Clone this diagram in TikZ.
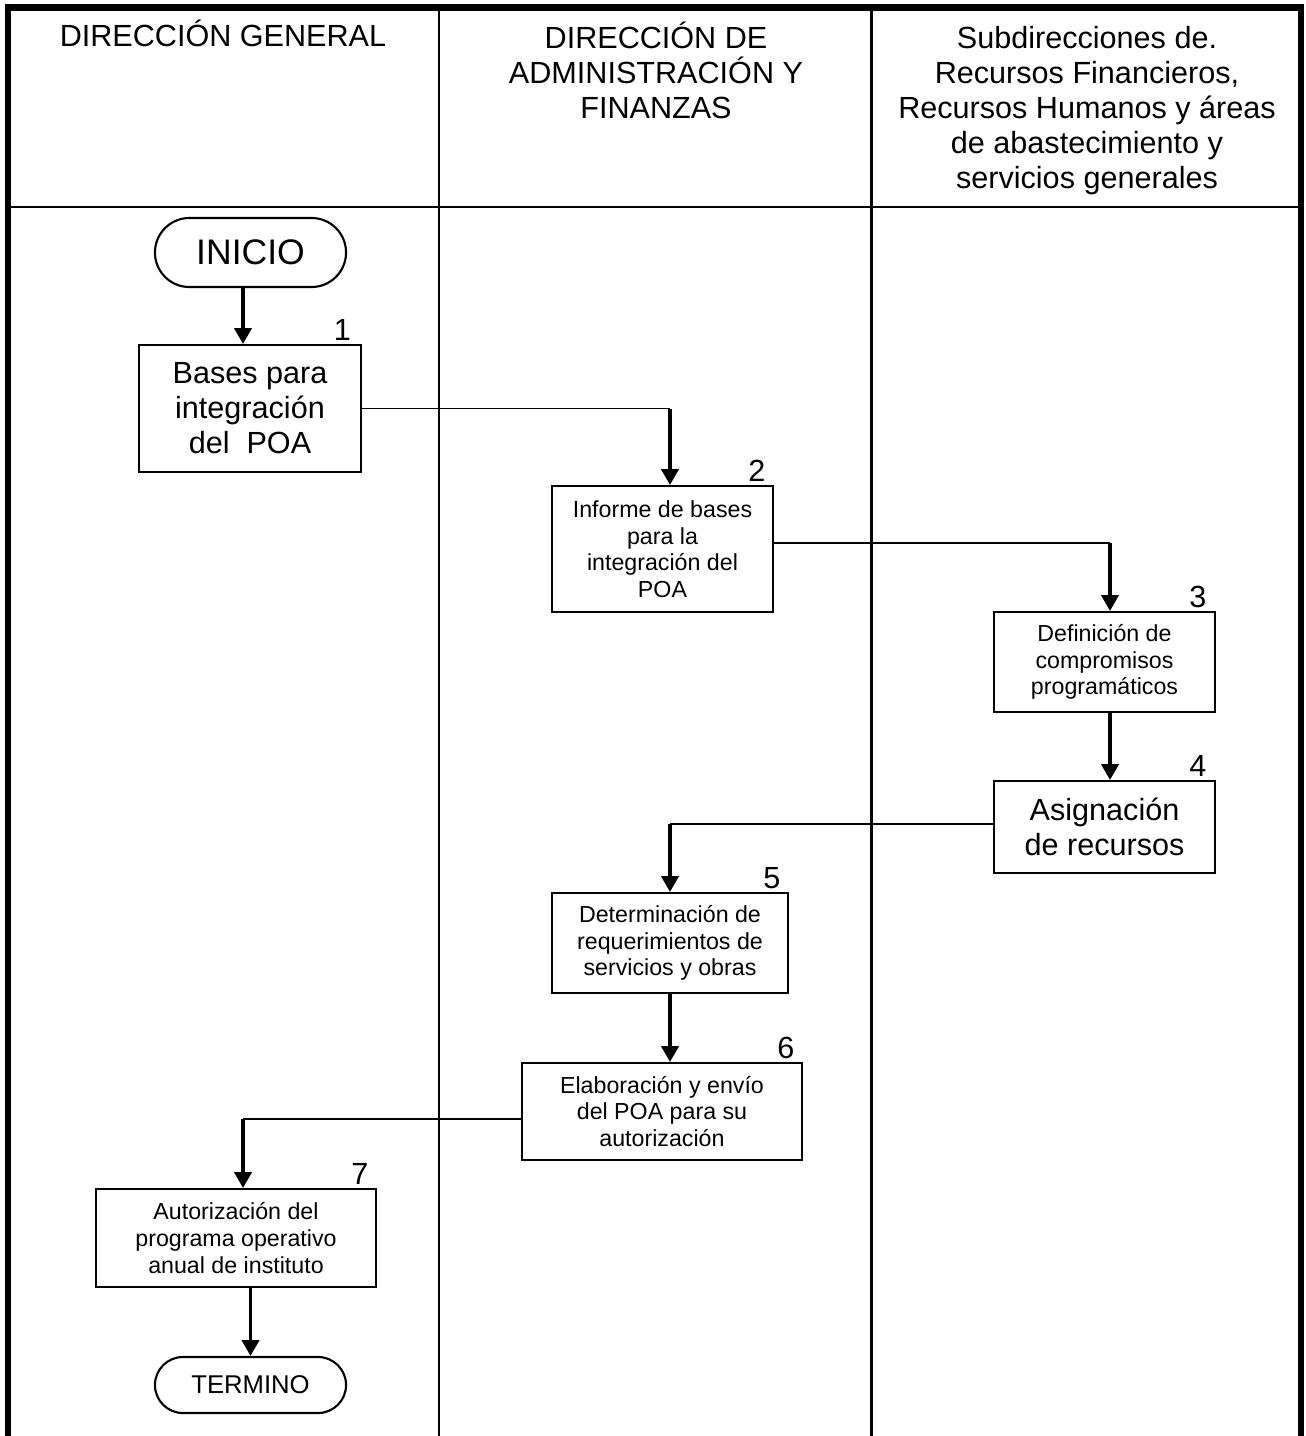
\documentclass[tikz,border=0pt]{standalone}
\usepackage{fontspec}
\setmainfont{Liberation Sans}
\usetikzlibrary{shapes.misc,arrows.meta}

\begin{document}
\begin{tikzpicture}[x=0.01cm,y=-0.01cm,
  caja/.style={draw,line width=0.6pt,align=center,inner sep=0pt},
  grande/.style={font=\fontsize{8.7}{9.96}\selectfont},
  chica/.style={font=\fontsize{6.6}{7.55}\selectfont},
  terminal/.style={draw,rounded rectangle,line width=0.6pt,inner sep=0pt,minimum width=1.91cm},
  num/.style={font=\fontsize{8.7}{10}\selectfont,anchor=base east,inner sep=0pt},
  encabezado/.style={font=\fontsize{8.7}{9.96}\selectfont,align=center,inner sep=0pt},
  flecha/.style={line width=0.9pt,-{Triangle[length=4.5pt,width=4.9pt]}},
  linea/.style={line width=0.5pt}]
\useasboundingbox (0,0) rectangle (1306,1436);
% marco y carriles
\draw[line width=1.9pt] (8,1436) -- (8,7.5) -- (1301,7.5) -- (1301,1436);
\draw[line width=0.85pt] (439,7.5) -- (439,1436);
\draw[line width=0.85pt] (871.5,7.5) -- (871.5,1436);
\draw[line width=0.75pt] (8,207) -- (1301,207);
% encabezados
\node[encabezado,anchor=base] (h1) at (223,46) {DIRECCIÓN GENERAL};
\node[encabezado] (h2) at (656,70) {DIRECCIÓN DE\\ADMINISTRACIÓN Y\\FINANZAS};
\node[encabezado] (h3) at (1087,111) {Subdirecciones de.\\Recursos Financieros,\\Recursos Humanos y áreas\\de abastecimiento y\\servicios generales};
% pasos
\node[terminal,minimum height=0.69cm,font=\fontsize{10.1}{11}\selectfont] (inicio) at (250.5,252.5) {INICIO};
\node[caja,grande,minimum width=2.21cm,minimum height=1.27cm] (b1) at (250,408.5) {Bases para\\integración\\del\ \ POA};
\node[caja,chica,minimum width=2.21cm,minimum height=1.26cm] (b2) at (662.5,549) {Informe de bases\\para la\\integración del\\POA};
\node[caja,chica,minimum width=2.21cm,minimum height=1.00cm] (b3) at (1104.5,662) {Definición de\\compromisos\\programáticos};
\node[caja,grande,minimum width=2.21cm,minimum height=0.92cm] (b4) at (1104.5,827) {Asignación\\de recursos};
\node[caja,chica,minimum width=2.36cm,minimum height=1.00cm] (b5) at (670,943) {Determinación de\\requerimientos de\\servicios y obras};
\node[caja,chica,minimum width=2.80cm,minimum height=0.97cm] (b6) at (662,1111.5) {Elaboración y envío\\del POA para su\\autorización};
\node[caja,chica,minimum width=2.80cm,minimum height=0.98cm] (b7) at (236,1238) {Autorización del\\programa operativo\\anual de instituto};
\node[terminal,minimum height=0.56cm,font=\fontsize{7.3}{8.5}\selectfont] (termino) at (250.5,1385) {TERMINO};
% numeros
\node[num] (n1) at ([shift={(-10,-3)}]b1.north east) {1};
\node[num] (n2) at ([shift={(-8,-3)}]b2.north east) {2};
\node[num] (n3) at ([shift={(-9,-3)}]b3.north east) {3};
\node[num] (n4) at ([shift={(-9,-3)}]b4.north east) {4};
\node[num] (n5) at ([shift={(-8,-3)}]b5.north east) {5};
\node[num] (n6) at ([shift={(-8,-3)}]b6.north east) {6};
\node[num] (n7) at ([shift={(-8,-3)}]b7.north east) {7};
% conectores
\coordinate (e1) at ([xshift=-0.07cm]b1.north);
\coordinate (e2) at ([xshift=0.075cm]b2.north);
\coordinate (e3) at ([xshift=0.055cm]b3.north);
\coordinate (e4) at ([xshift=0.055cm]b4.north);
\coordinate (e7) at ([xshift=0.07cm]b7.north);
\coordinate (s2) at ([yshift=0.06cm]b2.east);
\coordinate (s4) at ([yshift=0.03cm]b4.west);
\coordinate (s6) at ([yshift=-0.075cm]b6.west);
\draw[flecha] (inicio.south -| e1) -- (e1);
\draw[linea] (b1.east) -- (b1.east -| e2);
\draw[flecha] (b1.east -| e2) -- (e2);
\draw[linea] (s2) -- (s2 -| e3);
\draw[flecha] (s2 -| e3) -- (e3);
\draw[flecha] (b3.south -| e4) -- (e4);
\draw[linea] (s4) -- (s4 -| b5.north);
\draw[flecha] (s4 -| b5.north) -- (b5.north);
\draw[flecha] (b5.south) -- (b5.south |- b6.north);
\draw[linea] (s6) -- (s6 -| e7);
\draw[flecha] (s6 -| e7) -- (e7);
\draw[flecha] (b7.south -| termino.north) -- (termino.north);
\end{tikzpicture}
\end{document}
